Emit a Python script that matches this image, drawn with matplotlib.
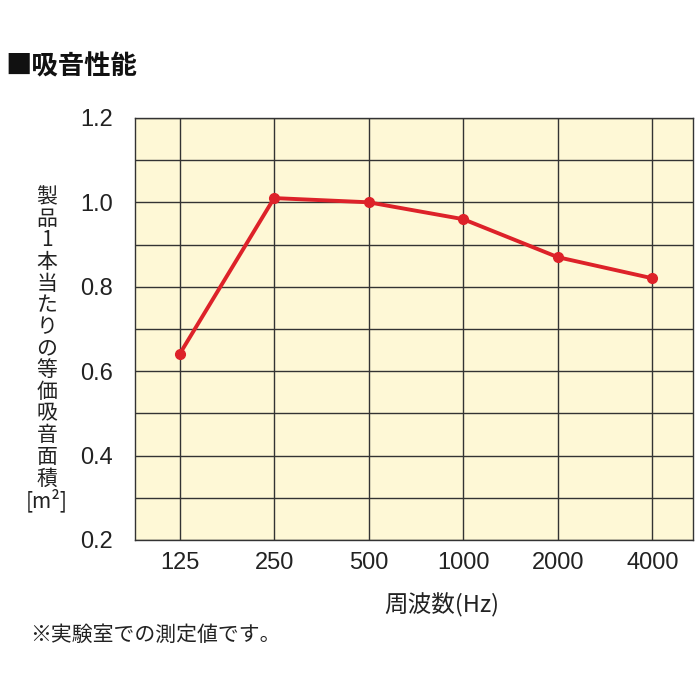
import matplotlib

matplotlib.use("Agg")
import matplotlib.pyplot as plt

plt.rcParams["font.family"] = ["Noto Sans CJK JP", "DejaVu Sans"]

# 周波数ごとの吸音面積
freqs = ["125", "250", "500", "1000", "2000", "4000"]
area = [0.64, 1.01, 1.00, 0.96, 0.87, 0.82]
yticks = [0.2, 0.4, 0.6, 0.8, 1.0, 1.2]
ylabel_chars = list("製品1本当たりの等価吸音面積") + ["[m²]"]

fig = plt.figure(figsize=(7, 7), dpi=100)
ax = fig.add_axes([0.193, 0.2286, 0.797, 0.603])
ax.set_facecolor("#FEF8D6")

xs = list(range(len(freqs)))
ax.plot(xs, area, "-o", color="#DD2229", lw=2.8, ms=7, zorder=3)

ax.set_xlim(-0.47, len(freqs) - 0.57)
ax.set_ylim(0.2, 1.2)
ax.set_xticks(xs)
ax.set_xticklabels(freqs)
ax.set_yticks(yticks)
ax.set_yticklabels([f"{v:.1f}" for v in yticks])
ax.set_yticks([0.3, 0.5, 0.7, 0.9, 1.1], minor=True)
ax.tick_params(axis="both", length=0, labelsize=17, colors="#222222")
ax.tick_params(axis="y", which="both", length=0, pad=16)
ax.tick_params(axis="x", pad=9)
for lab in ax.get_xticklabels() + ax.get_yticklabels():
    lab.set_family(["Liberation Sans", "Noto Sans CJK JP"])
ax.grid(True, which="both", color="#333333", lw=1.0)
ax.set_axisbelow(True)
for s in ax.spines.values():
    s.set_color("#333333")
    s.set_linewidth(1.0)

ax.set_xlabel("周波数(Hz)", fontsize=17, color="#222222")
ax.xaxis.set_label_coords(0.55, -0.125)

fig.text(0.067, 0.501, "\n".join(ylabel_chars), ha="center", va="center",
         fontsize=15, linespacing=0.98, color="#222222")
fig.text(0.008, 0.904, "■吸音性能", ha="left", va="center",
         fontsize=19, fontweight="bold", color="#111111")
fig.text(0.043, 0.093, "※実験室での測定値です。", ha="left", va="center",
         fontsize=15, color="#222222")

fig.savefig("out.png", dpi=100)
